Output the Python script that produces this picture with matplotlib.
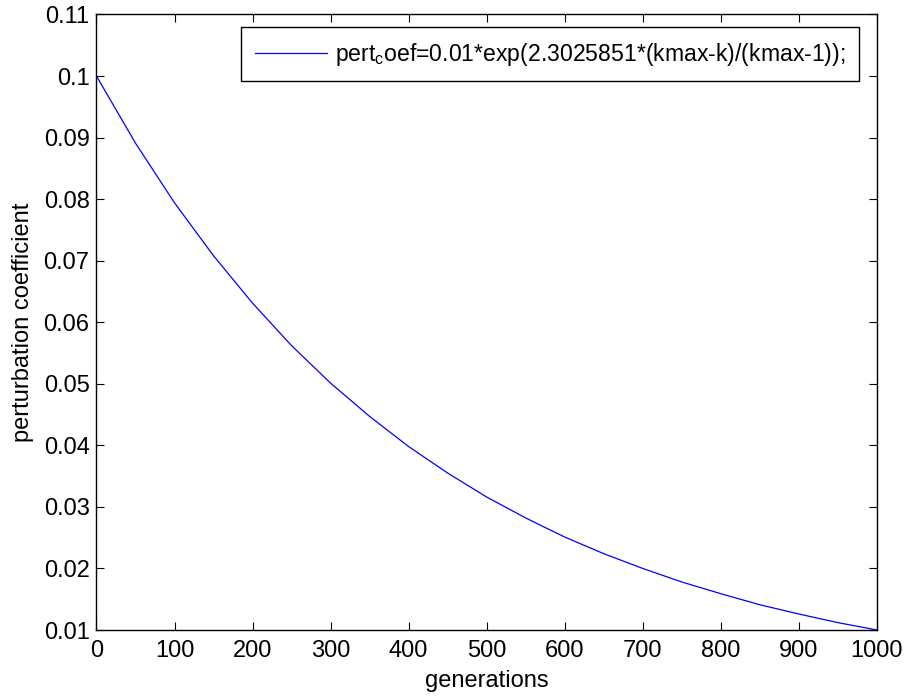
import numpy as np
import matplotlib.pyplot as plt

plt.rcParams["font.family"] = ["Liberation Sans", "DejaVu Sans"]
plt.rcParams["mathtext.fontset"] = "custom"
plt.rcParams["mathtext.rm"] = "Liberation Sans"
plt.rcParams["mathtext.it"] = "Liberation Sans"

# values
generations = [0, 50, 100, 150, 200, 250, 300, 350, 400, 450, 500,
               550, 600, 650, 700, 750, 800, 850, 900, 950, 1000]
pert_coef = [0.1000, 0.0891, 0.0794, 0.0708, 0.0631, 0.0562, 0.0501,
             0.0447, 0.0398, 0.0355, 0.0316, 0.0282, 0.0251, 0.0224,
             0.0200, 0.0178, 0.0159, 0.0141, 0.0126, 0.0112, 0.0100]
xticks = list(range(0, 1001, 100))
yticks = [0.01, 0.02, 0.03, 0.04, 0.05, 0.06, 0.07, 0.08, 0.09, 0.1, 0.11]
ytick_labels = ["0.01", "0.02", "0.03", "0.04", "0.05", "0.06", "0.07",
                "0.08", "0.09", "0.1", "0.11"]
legend_label = r"pert$_{\mathrm{c}}$oef=0.01*exp(2.3025851*(kmax-k)/(kmax-1));"

fig = plt.figure(figsize=(9.05, 6.97), dpi=100)
ax = fig.add_axes([0.1066, 0.0961, 0.8624, 0.8831])

ax.plot(generations, pert_coef, color="#0000ff", linewidth=0.9, label=legend_label)

ax.set_xlim(0, 1000)
ax.set_ylim(0.01, 0.11)
ax.set_xticks(xticks)
ax.set_yticks(yticks)
ax.set_yticklabels(ytick_labels)
ax.tick_params(direction="in", top=True, right=True, length=6, width=0.8,
               labelsize=17)
ax.tick_params(axis="y", pad=5)
ax.tick_params(axis="x", pad=7)
for s in ax.spines.values():
    s.set_linewidth(1.0)

ax.set_xlabel("generations", fontsize=17, labelpad=6)
ax.set_ylabel("perturbation coefficient", fontsize=17, labelpad=7)

leg = ax.legend(loc="upper right", bbox_to_anchor=(0.977, 0.980),
                borderaxespad=0, fancybox=False, framealpha=1,
                edgecolor="black", fontsize=16.6, handlelength=3.1,
                borderpad=0.6, handletextpad=0.34)
leg.get_frame().set_linewidth(1.0)

fig.savefig("out.png", dpi=100)
